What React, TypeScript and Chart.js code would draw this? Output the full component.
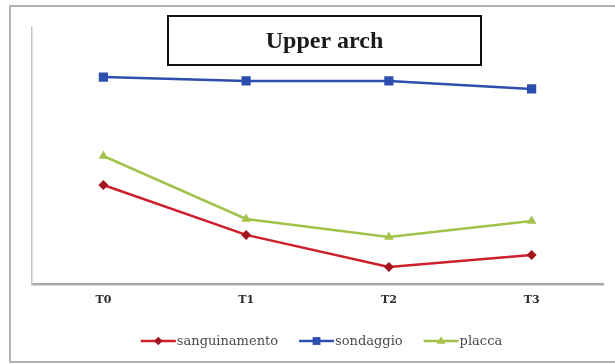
import React, { useEffect, useRef } from "react";
import { Chart, registerables } from "chart.js";

Chart.register(...registerables);

const categories = ["T0", "T1", "T2", "T3"];
const sanguinamento = [38.5, 19.1, 6.6, 11.3];
const sondaggio = [80.5, 79.0, 79.0, 75.9];
const placca = [49.8, 25.3, 18.3, 24.5];
const seriesNames = ["sanguinamento", "sondaggio", "placca"];
const titleText = "Upper arch";

const RED = "#cf1f2c";
const RED_MARK = "#a3161f";
const BLUE = "#2c4fae";
const GREEN = "#a3c24c";

function drawMarker(ctx: CanvasRenderingContext2D, style: string, x: number, y: number, r: number, color: string) {
  ctx.save();
  ctx.fillStyle = color;
  ctx.beginPath();
  if (style === "rect") {
    const s = r * Math.SQRT1_2;
    ctx.rect(x - s, y - s, 2 * s, 2 * s);
  } else if (style === "rectRot") {
    ctx.moveTo(x, y - r);
    ctx.lineTo(x + r, y);
    ctx.lineTo(x, y + r);
    ctx.lineTo(x - r, y);
    ctx.closePath();
  } else {
    ctx.moveTo(x, y - r);
    ctx.lineTo(x + r * 0.95, y + r * 0.6);
    ctx.lineTo(x - r * 0.95, y + r * 0.6);
    ctx.closePath();
  }
  ctx.fill();
  ctx.restore();
}

const framePlugin = {
  id: "frame",
  beforeDraw(chart: any) {
    const { ctx, width, height } = chart;
    ctx.save();
    ctx.fillStyle = "#ffffff";
    ctx.fillRect(0, 0, width, height);
    ctx.strokeStyle = "#b4b4b4";
    ctx.lineWidth = 2;
    ctx.beginPath();
    ctx.moveTo(width, 6);
    ctx.lineTo(10, 6);
    ctx.lineTo(10, 362);
    ctx.lineTo(width, 362);
    ctx.stroke();
    ctx.restore();
  },
};

const titleBoxPlugin = {
  id: "titleBox",
  afterDraw(chart: any) {
    const { ctx } = chart;
    ctx.save();
    const x0 = 168, y0 = 16, w = 313, h = 49;
    ctx.fillStyle = "#ffffff";
    ctx.fillRect(x0, y0, w, h);
    ctx.strokeStyle = "#111111";
    ctx.lineWidth = 2;
    ctx.strokeRect(x0, y0, w, h);
    ctx.fillStyle = "#1a1a1a";
    ctx.font = 'bold 24px "Liberation Serif"';
    ctx.textAlign = "center";
    ctx.textBaseline = "middle";
    ctx.fillText(titleText, x0 + w / 2, y0 + h / 2 + 1);
    ctx.restore();
  },
};

const lineLegendPlugin = {
  id: "lineLegend",
  afterDraw(chart: any) {
    const { ctx, chartArea } = chart;
    const datasets = chart.data.datasets;
    ctx.save();
    ctx.font = '13px "DejaVu Serif"';
    const lineLen = 35;
    const gap = 21;
    const widths = datasets.map((d: any) => lineLen + 1 + ctx.measureText(d.label).width);
    const total = widths.reduce((a: number, b: number) => a + b, 0) + gap * (datasets.length - 1);
    let x = (chartArea.left + chartArea.right) / 2 + 4 - total / 2;
    const y = 341;
    datasets.forEach((d: any, i: number) => {
      ctx.strokeStyle = d.borderColor;
      ctx.lineWidth = 2.5;
      ctx.beginPath();
      ctx.moveTo(x, y);
      ctx.lineTo(x + lineLen, y);
      ctx.stroke();
      drawMarker(ctx, d.pointStyle, x + lineLen / 2, y, d.pointRadius * 0.85, d.pointBackgroundColor);
      ctx.fillStyle = "#4a4a4a";
      ctx.textAlign = "left";
      ctx.textBaseline = "middle";
      ctx.fillText(d.label, x + lineLen + 1, y + 1);
      x += widths[i] + gap;
    });
    ctx.restore();
  },
};

export default function App() {
  const ref = useRef<HTMLCanvasElement | null>(null);

  useEffect(() => {
    if (!ref.current) return;
    const chart = new Chart(ref.current, {
      type: "line",
      data: {
        labels: categories,
        datasets: [
          {
            label: seriesNames[0],
            data: sanguinamento,
            borderColor: RED,
            backgroundColor: RED,
            pointBackgroundColor: RED_MARK,
            pointBorderColor: RED_MARK,
            pointStyle: "rectRot",
            pointRadius: 5,
            pointBorderWidth: 0,
            borderWidth: 2.5,
            tension: 0,
          },
          {
            label: seriesNames[1],
            data: sondaggio,
            borderColor: BLUE,
            backgroundColor: BLUE,
            pointBackgroundColor: BLUE,
            pointBorderColor: BLUE,
            pointStyle: "rect",
            pointRadius: 6.5,
            pointBorderWidth: 0,
            borderWidth: 2.5,
            tension: 0,
          },
          {
            label: seriesNames[2],
            data: placca,
            borderColor: GREEN,
            backgroundColor: GREEN,
            pointBackgroundColor: GREEN,
            pointBorderColor: GREEN,
            pointStyle: "triangle",
            pointRadius: 5.5,
            pointBorderWidth: 0,
            borderWidth: 2.5,
            tension: 0,
          },
        ],
      },
      options: {
        animation: false,
        responsive: true,
        maintainAspectRatio: false,
        layout: { padding: { left: 32, right: 12, top: 27, bottom: 50 } },
        plugins: {
          legend: { display: false },
          title: { display: false },
          tooltip: { enabled: false },
        },
        scales: {
          x: {
            type: "category",
            offset: true,
            grid: { display: false, drawTicks: false },
            border: { display: true, color: "#a8a8a8", width: 2.5 },
            ticks: {
              padding: 10,
              color: "#2a2a2a",
              font: { family: "DejaVu Serif", size: 11, weight: "bold" },
            },
            afterFit: (s: any) => {
              s.height = 30;
            },
          },
          y: {
            min: 0,
            max: 100,
            grid: { display: false, drawTicks: false },
            border: { display: true, color: "#c4c4c4", width: 1.5 },
            ticks: { display: false },
            afterFit: (s: any) => {
              s.width = 0;
            },
          },
        },
      },
      plugins: [framePlugin, titleBoxPlugin, lineLegendPlugin],
    } as any);
    return () => chart.destroy();
  }, []);

  return (
    <div style={{ position: "absolute", left: 0, top: 0, width: 615, height: 364 }}>
      <canvas ref={ref} />
    </div>
  );
}
